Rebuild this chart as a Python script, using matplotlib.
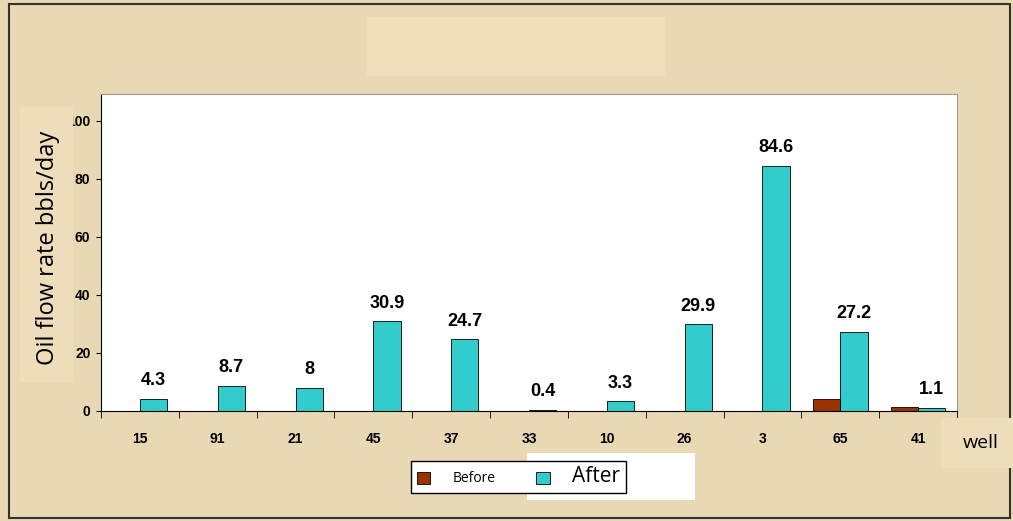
import numpy as np
import matplotlib.pyplot as plt
from matplotlib.patches import Rectangle, Patch

wells = ["15", "91", "21", "45", "37", "33", "10", "26", "3", "65", "41"]
before = [0, 0, 0, 0, 0, 0, 0, 0, 0, 4.0, 1.3]
after = [4.3, 8.7, 8, 30.9, 24.7, 0.4, 3.3, 29.9, 84.6, 27.2, 1.1]
after_labels = ["4.3", "8.7", "8", "30.9", "24.7", "0.4", "3.3", "29.9", "84.6", "27.2", "1.1"]
yticks = [0, 20, 40, 60, 80, 100]

bg = '#E8D8B3'
box_bg = '#EEDDBB'
c_before = '#993300'
c_after = '#33CCCC'

fig = plt.figure(figsize=(10.13, 5.21), dpi=100, facecolor=bg)
W, H = 1013, 521

def fx(x):
    return x / W

def fy(y):
    return 1 - y / H

def fig_box(x0, y0, x1, y1, color, z):
    # rectangle given in pixel coords (top-left origin)
    fig.patches.append(Rectangle((fx(x0), fy(y1)), (x1 - x0) / W, (y1 - y0) / H,
                                 transform=fig.transFigure, facecolor=color,
                                 edgecolor='none', zorder=z))

# outer frame and blank title box
fig.patches.append(Rectangle((fx(9), fy(518)), 1001 / W, 514 / H, transform=fig.transFigure,
                             fill=False, edgecolor='#333333', lw=1.5))
fig_box(367, 17, 665, 76, '#F0DFBC', 0)

ax = fig.add_axes([fx(101), fy(411), 856 / W, (411 - 94) / H])
ax.set_facecolor('white')

x = np.arange(len(wells))
w = 0.35
ax.bar(x - w / 2, before, w, color=c_before, edgecolor='black', lw=0.6, label='Before')
ax.bar(x + w / 2, after, w, color=c_after, edgecolor='black', lw=0.6, label='After')

for xi, v, lab in zip(x, after, after_labels):
    ax.annotate(lab, (xi + w / 2, v), xytext=(0, 7), textcoords='offset points',
                ha='center', va='bottom', fontsize=13, fontweight='bold',
                family='Liberation Sans')

ax.set_xlim(-0.5, len(wells) - 0.5)
ax.set_ylim(0, 109.3)
ax.set_yticks(yticks)
ax.set_yticklabels([str(t) for t in yticks], fontsize=10, fontweight='bold', family='Liberation Sans')
ax.set_xticks(x)
ax.set_xticklabels(wells, fontsize=10, fontweight='bold', family='Liberation Sans')
ax.set_xticks(np.arange(-0.5, len(wells)), minor=True)
ax.tick_params(axis='x', which='major', length=0, pad=15)
ax.tick_params(axis='x', which='minor', length=5, direction='out')
ax.tick_params(axis='y', length=3.6, direction='out', pad=4)

for s in ['top', 'right']:
    ax.spines[s].set_color('#999999')
ax.spines['left'].set_color('black')
ax.spines['bottom'].set_color('black')

# y label sitting on its own box, clipping the tick labels
fig_box(20, 107, 73, 382, box_bg, 3)
fig.text(fx(48), fy(248), 'Oil flow rate bbls/day', rotation=90, ha='center', va='center',
         fontsize=17, family='Open Sans', zorder=4)

fig_box(941, 418, 1013, 468, box_bg, 3)
fig.text(fx(981), fy(443), 'well', ha='center', va='center', fontsize=14,
         family='Open Sans', zorder=4)

# legend
handles = [Patch(facecolor=c_before, edgecolor='black', lw=0.6),
           Patch(facecolor=c_after, edgecolor='black', lw=0.6)]
leg = fig.legend(handles, ['Before', 'After'], ncol=2, loc='center left',
                 bbox_to_anchor=(fx(404), fy(477)), frameon=True, fancybox=False,
                 edgecolor='black', framealpha=1, handlelength=1.0, handleheight=1.0,
                 handletextpad=1.6, columnspacing=2.9, borderpad=0.4,
                 prop={'family': 'Open Sans', 'size': 10})
leg.set_zorder(5)
leg.get_texts()[1].set_fontsize(15)
fig_box(527, 453, 695, 500, 'white', 4)

fig.savefig('out.png', dpi=100, facecolor=bg)
